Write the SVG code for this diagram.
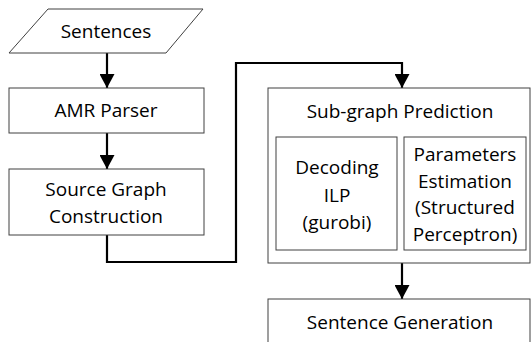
<svg xmlns="http://www.w3.org/2000/svg" width="531" height="342" viewBox="0 0 531 342">
<style>
.box{fill:#fff;stroke:#404040;stroke-width:1}
.t{font-family:"Open Sans","Noto Sans",sans-serif;font-size:19px;fill:#000;text-anchor:middle;dominant-baseline:central}
.c{fill:none;stroke:#000;stroke-width:2.2}
</style>
<defs>
<marker id="ah" viewBox="0 0 14 15" refX="14" refY="7.5" markerWidth="14" markerHeight="15" markerUnits="userSpaceOnUse" orient="auto">
<path d="M0,0 L14,7.5 L0,15 Z" fill="#000"/>
</marker>
</defs>
<rect width="531" height="342" fill="#fff"/>
<g id="connectors">
<line class="c" x1="107" y1="53" x2="107" y2="88" marker-end="url(#ah)"/>
<line class="c" x1="107" y1="133" x2="107" y2="169" marker-end="url(#ah)"/>
<polyline class="c" points="107,235 107,262 236,262 236,63 402,63 402,88" marker-end="url(#ah)"/>
<line class="c" x1="402" y1="263" x2="402" y2="299" marker-end="url(#ah)"/>
</g>
<g id="sentences">
<polygon class="box" points="48,9 203,9 166,53 9,53"/>
<text class="t" x="106" y="31">Sentences</text>
</g>
<g id="amr-parser">
<rect class="box" x="9" y="88" width="195" height="45"/>
<text class="t" x="106" y="110">AMR Parser</text>
</g>
<g id="source-graph">
<rect class="box" x="9" y="169" width="195" height="66"/>
<text class="t" x="106" y="189">Source Graph</text>
<text class="t" x="106" y="216">Construction</text>
</g>
<g id="subgraph-prediction">
<rect class="box" x="268" y="88" width="262" height="175"/>
<text class="t" x="400" y="111">Sub-graph Prediction</text>
</g>
<g id="decoding">
<rect class="box" x="276" y="137" width="121" height="113"/>
<text class="t" x="337" y="167">Decoding</text>
<text class="t" x="337" y="195">ILP</text>
<text class="t" x="337" y="222">(gurobi)</text>
</g>
<g id="parameters">
<rect class="box" x="404" y="137" width="122" height="113"/>
<text class="t" x="465" y="154">Parameters</text>
<text class="t" x="465" y="181">Estimation</text>
<text class="t" x="465" y="207">(Structured</text>
<text class="t" x="465" y="234">Perceptron)</text>
</g>
<g id="sentence-generation">
<rect class="box" x="268" y="299" width="262" height="60"/>
<text class="t" x="400" y="322">Sentence Generation</text>
</g>
</svg>
